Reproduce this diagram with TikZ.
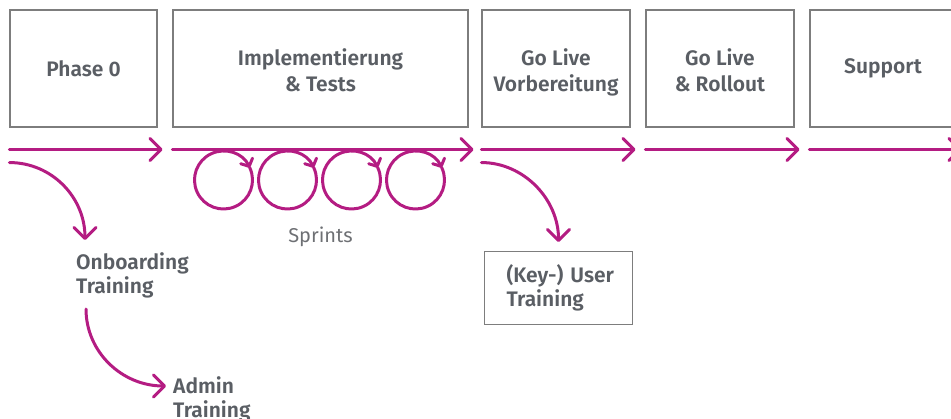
\documentclass[tikz,border=0pt]{standalone}
\usepackage{fontspec}
\setmainfont{Fira Sans}[BoldFont={Fira Sans SemiBold}]
\usetikzlibrary{arrows.meta}
\definecolor{mag}{RGB}{180,28,130}
\definecolor{boxline}{RGB}{125,125,125}
\definecolor{txt}{RGB}{90,94,100}
\definecolor{lighttxt}{RGB}{110,112,116}
\newcommand\firstln{\rule{0pt}{19pt}}
\newcommand\lastln[1]{\raisebox{0pt}[\height][0pt]{#1}}
\begin{document}
\begin{tikzpicture}[x=1pt,y=-1pt,
  phasebox/.style={draw=boxline, line width=1.1pt, minimum height=117pt, align=center, text=txt,
    font=\fontsize{21}{26}\selectfont\bfseries, inner sep=0pt},
  flow/.style={draw=mag, line width=3pt, line cap=round,
    -{Straight Barb[length=11pt,width=22pt,line cap=round,line join=round]}},
  sprint/.style={draw=mag, line width=3pt, line cap=round,
    -{Straight Barb[length=6pt,width=13pt,line cap=round,line join=round]}},
  lbl/.style={align=left, text=txt, font=\fontsize{21}{24}\selectfont\bfseries, inner sep=0pt, anchor=north west},
  keybox/.style={draw=boxline, line width=1.1pt, anchor=north west, minimum width=148pt, minimum height=73pt,
    text width=104pt, inner xsep=22pt, inner ysep=0pt, align=left, text=txt, font=\fontsize{21}{24}\selectfont\bfseries}
]
\clip (0,0) rectangle (951,418);
% phase boxes
\node[phasebox, minimum width=147pt] (p0) at (83.5,68.5) {Phase 0};
\node[phasebox, minimum width=295pt] (impl) at (320.5,68.5) {\firstln Implementierung\\\lastln{\& Tests}};
\node[phasebox, minimum width=148pt] (prep) at (556,68.5) {\firstln Go Live\\\lastln{Vorbereitung}};
\node[phasebox, minimum width=148pt] (roll) at (720,68.5) {\firstln Go Live\\\lastln{\& Rollout}};
\node[phasebox, minimum width=146pt] (supp) at (883,68.5) {Support};
% timeline arrows
\draw[flow] ([yshift=-22pt]p0.south west) -- ([xshift=5pt,yshift=-22pt]p0.south east);
\draw[flow] ([yshift=-22pt]impl.south west) -- ([xshift=5pt,yshift=-22pt]impl.south east);
\draw[flow] ([yshift=-22pt]prep.south west) -- ([xshift=5pt,yshift=-22pt]prep.south east);
\draw[flow] ([yshift=-22pt]roll.south west) -- ([xshift=5pt,yshift=-22pt]roll.south east);
\draw[flow] ([yshift=-22pt]supp.south west) -- ([xshift=5pt,yshift=-22pt]supp.south east);
% sprints
\foreach \i/\x in {1/223.5,2/287.5,3/351.5,4/415.5}{
  \coordinate (s\i) at (\x,180);
  \draw[sprint] ([shift={(-25:29)}]s\i) arc[start angle=-385, end angle=-25, radius=29];
}
\node[text=lighttxt, font=\fontsize{20}{24}\selectfont, inner sep=0pt, anchor=base] (spr) at (320.5,242) {Sprints};
% labels
\node[lbl] (onb) at (76,252) {Onboarding\\Training};
\node[lbl] (adm) at (173,376) {Admin\\Training};
\node[keybox] (key) at (484,251) {\mbox{(Key-) User}\\Training};
% branch arrows
\coordinate (c0) at ([yshift=-35pt]p0.south west);
\coordinate (c1) at ([yshift=-35pt]prep.south west);
\coordinate (ob) at (86,309);
\draw[flow] (c0) .. controls +(42,0) and +(0,-43) .. ([xshift=9pt,yshift=12pt]onb.north west);
\draw[flow] (c1) .. controls +(42,0) and +(0,-43) .. ([yshift=9pt]key.north);
\draw[flow] (ob) .. controls +(0,43) and +(-44,0) .. ([xshift=-7pt,yshift=-10pt]adm.north west);
\end{tikzpicture}
\end{document}
